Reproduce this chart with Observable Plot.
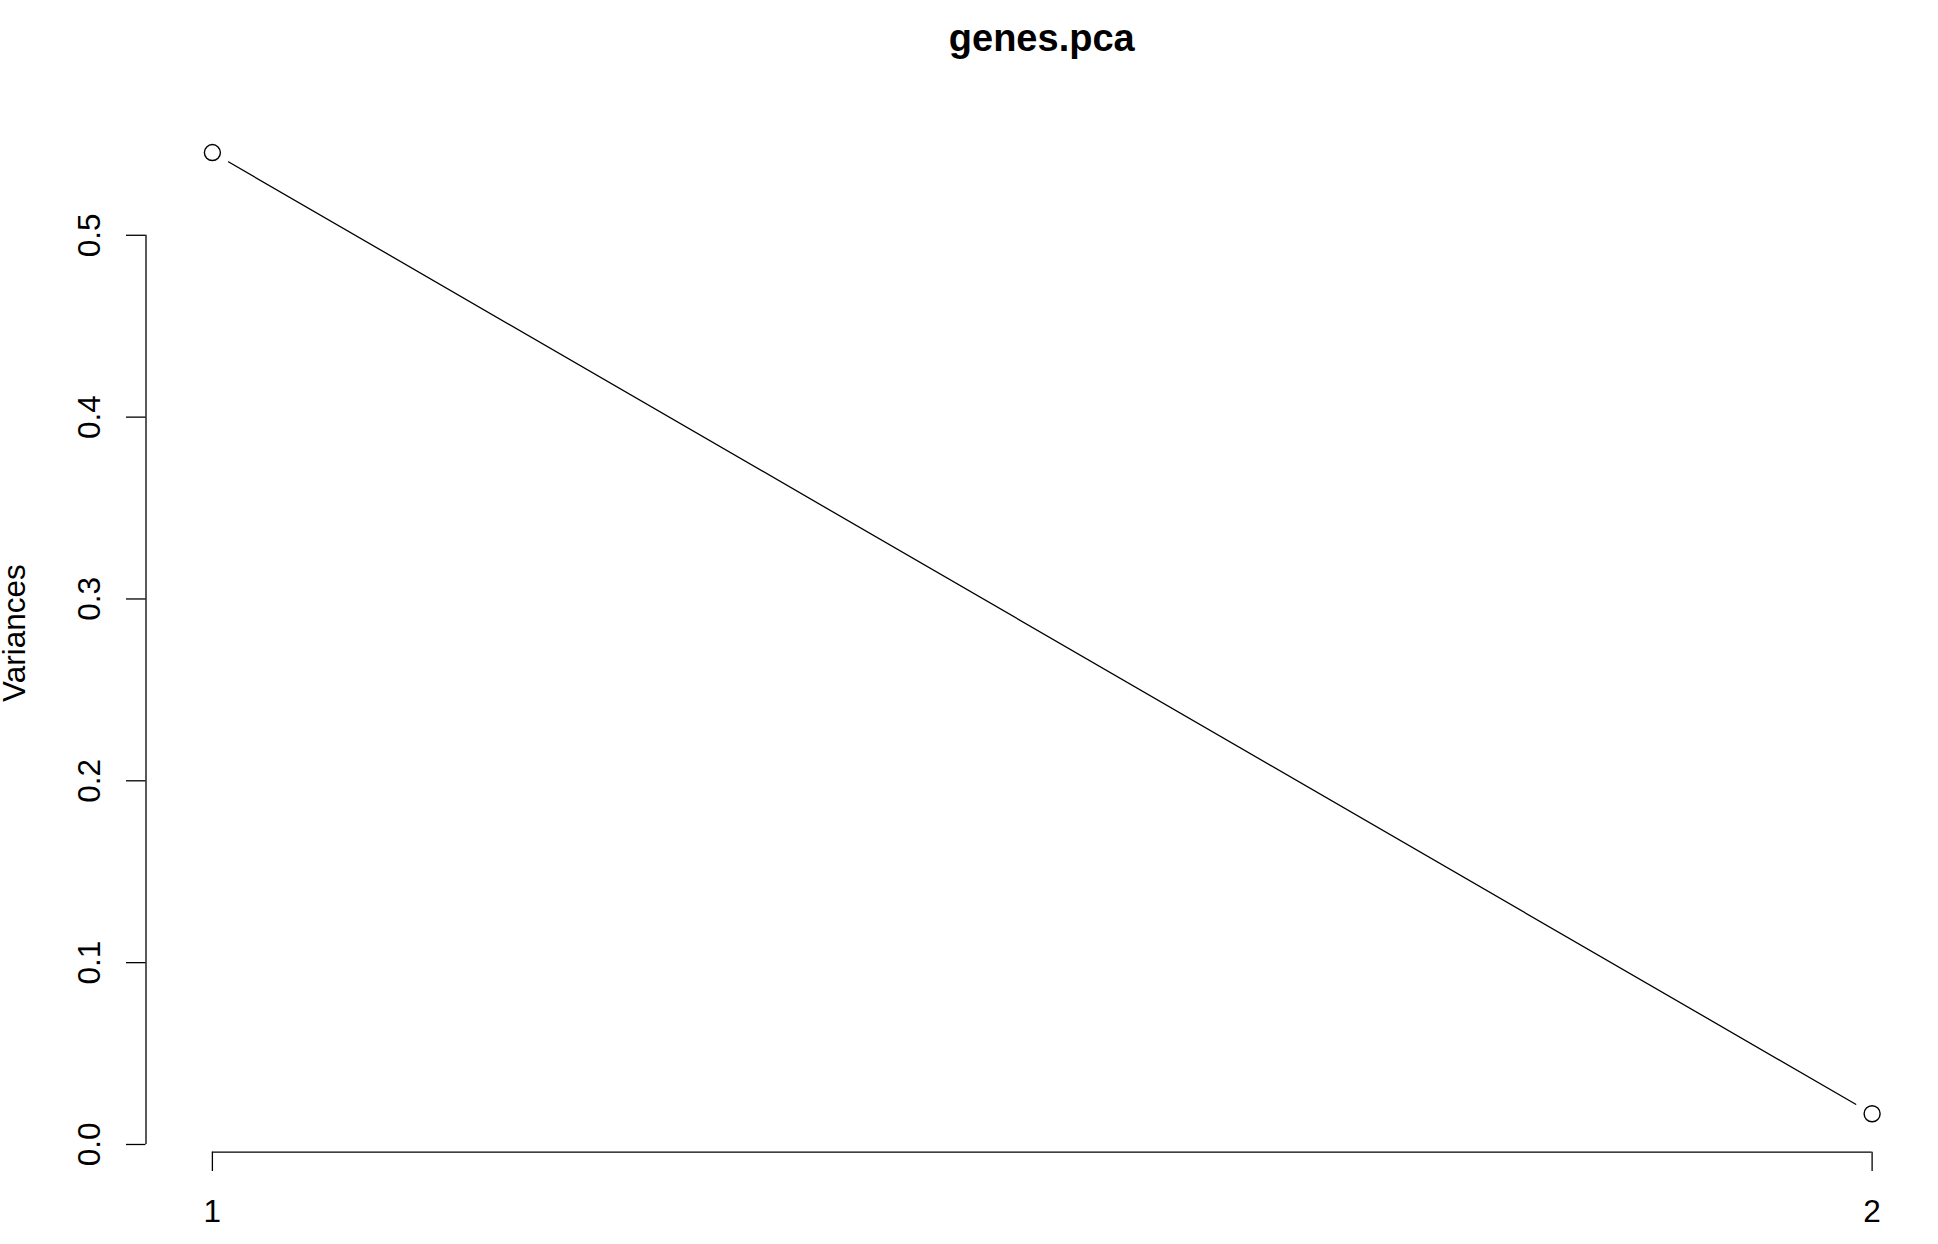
<!DOCTYPE html>
<html>
<head>
<meta charset="utf-8">
<script src="https://cdn.jsdelivr.net/npm/d3@7"></script>
<script src="https://cdn.jsdelivr.net/npm/@observablehq/plot@0.6"></script>
<style>
  html, body { margin: 0; padding: 0; background: #fff; }
  #title {
    box-sizing: border-box;
    width: 1938px; height: 80px;
    padding-left: 145.5px; padding-top: 19px;
    text-align: center;
    font-family: "Liberation Sans", Arial, sans-serif;
    font-weight: bold; font-size: 38px; line-height: 38px;
    color: #000;
  }
</style>
</head>
<body>
<div id="title">genes.pca</div>
<div id="chart"></div>
<script>
// Data
const components = [1, 2];
const variances = [0.5455, 0.0169];
const xTicks = [1, 2];
const yTicks = [0, 0.1, 0.2, 0.3, 0.4, 0.5];
const yLabel = "Variances";

const data = components.map((c, i) => ({pc: c, v: variances[i]}));

// R-style 4% axis extension
const xExt = d3.extent(components);
const xPad = (xExt[1] - xExt[0]) * 0.04;
const xDomain = [xExt[0] - xPad, xExt[1] + xPad];
const yExt = d3.extent(variances);
const yPad = (yExt[1] - yExt[0]) * 0.04;
const yDomain = [yExt[0] - yPad, yExt[1] + yPad];

const FS = 31.5;

const chart = Plot.plot({
  width: 1938,
  height: 1164,
  marginLeft: 145.5,
  marginRight: 0,
  marginTop: 33.6,
  marginBottom: 92.3,
  style: {fontFamily: "'Liberation Sans', Arial, sans-serif", fontSize: FS + "px", color: "#000", background: "#fff"},
  x: {domain: xDomain, axis: null},
  y: {domain: yDomain, axis: null},
  marks: [
    // y axis: line from first to last tick, ticks outward
    Plot.ruleX([xDomain[0]], {y1: yTicks[0], y2: yTicks[yTicks.length - 1], stroke: "#000", strokeWidth: 1.3}),
    Plot.axisY(yTicks, {anchor: "left", tickSize: 19.5, tickFormat: () => "", label: null, stroke: "#000", strokeWidth: 1.3}),
    Plot.text(yTicks, {x: xDomain[0], y: d => d, text: d => d3.format(".1f")(d), rotate: -90, dx: -46.5,
      textAnchor: "middle", lineAnchor: "bottom", fontSize: FS, fill: "#000"}),
    // x axis
    Plot.ruleY([yDomain[0]], {x1: xTicks[0], x2: xTicks[xTicks.length - 1], stroke: "#000", strokeWidth: 1.3}),
    Plot.axisX(xTicks, {anchor: "bottom", tickSize: 19.3, tickPadding: 28.6, tickFormat: d => String(d), label: null,
      stroke: "#000", strokeWidth: 1.3, fontSize: FS}),
    // y label
    Plot.text([yLabel], {frameAnchor: "left", rotate: -90, dx: -121, textAnchor: "middle", lineAnchor: "bottom",
      fontSize: FS, fill: "#000"}),
    // type = "b": line with gaps around points
    Plot.line(data, {x: "pc", y: "v", stroke: "#000", strokeWidth: 1.3}),
    Plot.dot(data, {x: "pc", y: "v", r: 18.3, fill: "#fff", stroke: "none"}),
    Plot.dot(data, {x: "pc", y: "v", r: 8, fill: "none", stroke: "#000", strokeWidth: 1.4})
  ]
});
document.getElementById("chart").appendChild(chart);
</script>
</body>
</html>
